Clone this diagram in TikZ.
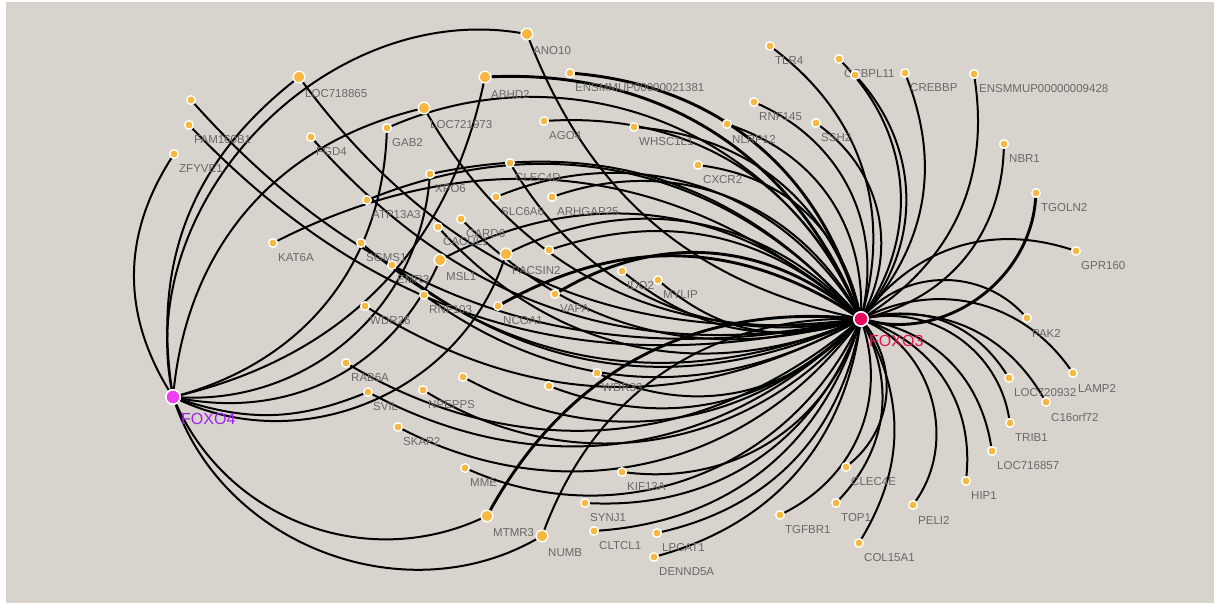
\documentclass[tikz,border=0pt]{standalone}
\usepackage{fontspec}
\setmainfont{Liberation Sans}
\pgfdeclarelayer{edgelayer}
\pgfsetlayers{edgelayer,main}
\definecolor{bgbeige}{HTML}{D8D4CD}
\definecolor{gorange}{HTML}{F8B740}
\definecolor{labgray}{HTML}{686868}
\definecolor{fthree}{HTML}{E8075C}
\definecolor{fthreetxt}{HTML}{E8104E}
\definecolor{ffour}{HTML}{F03CF0}
\definecolor{ffourtxt}{HTML}{A21FF0}
\tikzset{
 gene/.style={circle, fill=gorange, draw=white, line width=1.4pt, minimum size=8.6pt, inner sep=0pt},
 biggene/.style={gene, minimum size=11.6pt},
 lab/.style={anchor=west, inner sep=0pt, text=labgray, font=\fontsize{11.5}{13}\selectfont},
 hub/.style={circle, draw=white, line width=1.6pt, minimum size=14.4pt, inner sep=0pt},
 hublab/.style={anchor=west, inner sep=0pt, font=\fontsize{16}{18}\selectfont},
 link/.style={draw=black, line width=2.0pt},
 heavy/.style={draw=black, line width=2.9pt},
}
\newcommand\smallgene[4]{\node[gene] (#1) at (#2,#3) {}; \node[lab] (#1-l) at (#2+5,#3+15) {#4};}
\newcommand\biggene[4]{\node[biggene] (#1) at (#2,#3) {}; \node[lab] (#1-l) at (#2+6,#3+17) {#4};}
\newcommand\blankgene[3]{\node[gene] (#1) at (#2,#3) {};}
\begin{document}
\begin{tikzpicture}[x=1pt,y=-1pt]
\useasboundingbox (0,0) rectangle (1219,605);
% hubs
\node[hub, fill=fthree] (F3) at (861,319) {};
\node[hublab, text=fthreetxt] (F3-l) at (869,341) {FOXO3};
\node[hub, fill=ffour] (F4) at (173,397) {};
\node[hublab, text=ffourtxt] (F4-l) at (181,419) {FOXO4};
% genes
\biggene{ANO10}{527}{34}{ANO10}
\biggene{LOC718865}{299}{77}{LOC718865}
\biggene{ABHD2}{485}{77}{ABHD2}
\smallgene{ENSa}{570}{73}{ENSMMUP00000021381}
\biggene{LOC721973}{424}{108}{LOC721973}
\smallgene{AGO4}{544}{121}{AGO4}
\smallgene{WHSC1L1}{634}{127}{WHSC1L1}
\blankgene{unlA}{191}{100}
\smallgene{FAM160B1}{189}{125}{FAM160B1}
\smallgene{ZFYVE1}{174}{154}{ZFYVE1}
\smallgene{FGD4}{311}{137}{FGD4}
\smallgene{GAB2}{387}{128}{GAB2}
\smallgene{XPO6}{430}{174}{XPO6}
\smallgene{CLEC4D}{510}{163}{CLEC4D}
\smallgene{ATP13A3}{367}{200}{ATP13A3}
\smallgene{SLC6A6}{496}{197}{SLC6A6}
\smallgene{ARHGAP25}{552}{197}{ARHGAP25}
\smallgene{KAT6A}{273}{243}{KAT6A}
\smallgene{SGMS1}{361}{243}{SGMS1}
\smallgene{CARD6}{461}{219}{CARD6}
\smallgene{CACUL1}{438}{227}{CACUL1}
\biggene{MSL1}{440}{260}{MSL1}
\smallgene{EMR3}{392}{265}{EMR3}
\biggene{PACSIN2}{506}{254}{PACSIN2}
\blankgene{unlB}{549}{250}
\smallgene{RNF103}{424}{295}{RNF103}
\smallgene{WDR26}{365}{306}{WDR26}
\smallgene{NCOA1}{498}{306}{NCOA1}
\smallgene{VAPA}{555}{294}{VAPA}
\smallgene{IDO2}{622}{271}{IDO2}
\smallgene{MYLIP}{658}{280}{MYLIP}
\smallgene{RAB6A}{346}{363}{RAB6A}
\smallgene{SVIL}{368}{392}{SVIL}
\smallgene{NPEPPS}{423}{390}{NPEPPS}
\blankgene{unlC}{463}{377}
\blankgene{unlD}{549}{386}
\smallgene{WDR33}{597}{373}{WDR33}
\smallgene{SKAP2}{398}{427}{SKAP2}
\smallgene{MME}{465}{468}{MME}
\smallgene{KIF13A}{622}{472}{KIF13A}
\biggene{MTMR3}{487}{516}{MTMR3}
\biggene{NUMB}{542}{536}{NUMB}
\smallgene{SYNJ1}{585}{503}{SYNJ1}
\smallgene{CLTCL1}{594}{531}{CLTCL1}
\smallgene{LPCAT1}{657}{533}{LPCAT1}
\smallgene{DENND5A}{654}{557}{DENND5A}
\smallgene{TGFBR1}{780}{515}{TGFBR1}
\smallgene{TOP1}{836}{503}{TOP1}
\smallgene{CLEC4E}{846}{467}{CLEC4E}
\smallgene{COL15A1}{859}{543}{COL15A1}
\smallgene{PELI2}{913}{505}{PELI2}
\smallgene{HIP1}{966}{481}{HIP1}
\smallgene{LOC716857}{992}{451}{LOC716857}
\smallgene{TRIB1}{1010}{423}{TRIB1}
\smallgene{C16orf72}{1046}{402}{C16orf72}
\smallgene{LOC720932}{1009}{378}{LOC720932}
\smallgene{LAMP2}{1073}{373}{LAMP2}
\smallgene{PAK2}{1027}{318}{PAK2}
\smallgene{GPR160}{1076}{251}{GPR160}
\smallgene{TGOLN2}{1036}{193}{TGOLN2}
\smallgene{NBR1}{1004}{144}{NBR1}
\smallgene{ENSb}{974}{74}{ENSMMUP00000009428}
\smallgene{CREBBP}{905}{73}{CREBBP}
\smallgene{OSBPL11}{839}{59}{OSBPL11}
\blankgene{unlE}{855}{75}
\smallgene{SSH2}{816}{123}{SSH2}
\smallgene{TLR4}{770}{46}{TLR4}
\smallgene{RNF145}{754}{102}{RNF145}
\smallgene{NLRP12}{727}{124}{NLRP12}
\smallgene{CXCR2}{698}{165}{CXCR2}
\begin{pgfonlayer}{edgelayer}
\fill[white] (0,0) rectangle (1219,605);
\fill[bgbeige] (6,2) rectangle (1214,603);
% FOXO4 links
\draw[link] (F4) to[bend left=32] (ZFYVE1);
\draw[link] (F4) to[bend left=30] (LOC718865);
\draw[link] (F4) to[bend left=55] (ANO10);
\draw[link] (F4) to[bend left=35] (LOC721973);
\draw[link] (GAB2) to[bend left=36] (F4);
\draw[link] (ABHD2) to[bend left=32] (F4);
\draw[link] (XPO6) to[bend left=44] (F4);
\draw[link] (MSL1) to[bend left=38] (F4);
\draw[link] (PACSIN2) to[bend left=48] (F4);
\draw[link] (SVIL) to[bend left=20] (F4);
\draw[link] (MTMR3) to[bend left=45] (F4);
\draw[link] (NUMB) to[bend left=50] (F4);
% FOXO3 links, hub as source
\draw[link] (F3) to[bend left=28] (ANO10);
\draw[link] (F3) to[bend left=30] (LOC718865);
\draw[link] (F3) to[bend left=34] (LOC721973);
\draw[link] (F3) to[bend left=30] (unlA);
\draw[link] (F3) to[bend left=30] (FAM160B1);
\draw[link] (F3) to[bend left=30] (FGD4);
\draw[link] (F3) to[bend left=35] (CLEC4D);
\draw[link] (F3) to[bend left=31] (SGMS1);
\draw[link] (F3) to[bend left=30] (CARD6);
\draw[link] (F3) to[bend left=35] (CACUL1);
\draw[link] (F3) to[bend left=31] (EMR3);
\draw[link] (F3) to[bend left=32] (RNF103);
\draw[link] (F3) to[bend left=30] (WDR26);
\draw[link] (F3) to[bend left=27] (IDO2);
\draw[link] (F3) to[bend left=29] (MYLIP);
\draw[link] (F3) to[bend left=35] (RAB6A);
\draw[link] (F3) to[bend left=36] (SVIL);
\draw[link] (F3) to[bend left=40] (NPEPPS);
\draw[link] (F3) to[bend left=36] (unlC);
\draw[link] (F3) to[bend left=32] (unlD);
\draw[link] (F3) to[bend left=35] (WDR33);
\draw[link] (F3) to[bend left=40] (SKAP2);
\draw[link] (F3) to[bend left=44] (MME);
\draw[link] (F3) to[bend left=39] (KIF13A);
\draw[link] (F3) to[bend left=36] (SYNJ1);
\draw[link] (F3) to[bend left=34] (CLTCL1);
\draw[link] (F3) to[bend left=33] (LPCAT1);
\draw[link] (F3) to[bend left=33] (DENND5A);
\draw[link] (F3) to[bend left=40] (TGFBR1);
\draw[link] (F3) to[bend left=35] (TOP1);
\draw[link] (F3) to[bend left=44] (CLEC4E);
\draw[link] (F3) to[bend left=30] (COL15A1);
\draw[link] (F3) to[bend left=50] (PELI2);
\draw[link] (F3) to[bend left=38] (HIP1);
\draw[link] (F3) to[bend left=35] (LOC716857);
\draw[link] (F3) to[bend left=45] (TRIB1);
\draw[link] (F3) to[bend left=35] (C16orf72);
\draw[link] (F3) to[bend left=35] (LOC720932);
\draw[link] (F3) to[bend left=40] (LAMP2);
\draw[link] (F3) to[bend left=47] (PAK2);
\draw[link] (F3) to[bend left=35] (GPR160);
% FOXO3 links, gene as source
\draw[heavy] (ABHD2) to[bend left=35] (F3);
\draw[heavy] (ENSa) to[bend left=35] (F3);
\draw[link] (AGO4) to[bend left=35] (F3);
\draw[link] (WHSC1L1) to[bend left=35] (F3);
\draw[link] (GAB2) to[bend left=45] (F3);
\draw[link] (XPO6) to[bend left=30] (F3);
\draw[link] (ATP13A3) to[bend left=35] (F3);
\draw[link] (SLC6A6) to[bend left=40] (F3);
\draw[link] (ARHGAP25) to[bend left=40] (F3);
\draw[link] (KAT6A) to[bend left=34] (F3);
\draw[link] (MSL1) to[bend left=35] (F3);
\draw[link] (PACSIN2) to[bend left=36] (F3);
\draw[link] (unlB) to[bend left=30] (F3);
\draw[heavy] (NCOA1) to[bend left=31] (F3);
\draw[heavy] (VAPA) to[bend left=35] (F3);
\draw[heavy] (MTMR3) to[bend left=33] (F3);
\draw[link] (NUMB) to[bend left=35] (F3);
\draw[heavy] (TGOLN2) to[bend left=50] (F3);
\draw[link] (NBR1) to[bend left=37] (F3);
\draw[link] (ENSb) to[bend left=33] (F3);
\draw[link] (CREBBP) to[bend left=31] (F3);
\draw[link] (OSBPL11) to[bend left=39] (F3);
\draw[link] (unlE) to[bend left=40] (F3);
\draw[link] (SSH2) to[bend left=40] (F3);
\draw[link] (TLR4) to[bend left=34] (F3);
\draw[link] (RNF145) to[bend left=39] (F3);
\draw[link] (NLRP12) to[bend left=36] (F3);
\draw[link] (CXCR2) to[bend left=35] (F3);
\end{pgfonlayer}
\end{tikzpicture}
\end{document}
